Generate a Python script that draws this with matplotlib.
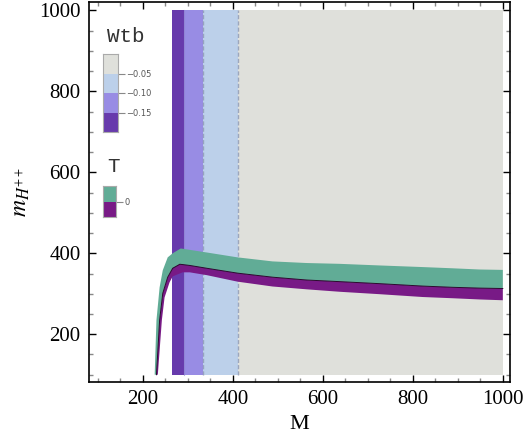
import numpy as np
import matplotlib
matplotlib.use("Agg")
import matplotlib.pyplot as plt
from matplotlib.ticker import MultipleLocator

plt.rcParams['mathtext.fontset'] = 'stix'

# --- data ---
# Wtb shaded vertical regions (edges in M) and their colours
wtb_edges = [265, 292, 333, 411, 1000]
wtb_colors = ['#673aac', '#988ce4', '#bcd0ea', '#dfe0db']
wtb_levels = ['-0.15', '-0.10', '-0.05']
region_ymin, region_ymax = 100, 1000

# upper edge of the teal band
M_up = [226, 230, 237, 244, 255, 266, 284, 342, 410, 488, 564, 637, 726, 822, 888, 948, 1000]
m_up = [100, 235, 316, 358, 390, 400, 412, 402, 390, 380, 376, 374, 370, 366, 363, 360, 359]
# boundary between teal and purple (T = 0)
M_mid = [230, 237, 244, 255, 266, 282, 304, 342, 410, 488, 564, 637, 726, 822, 888, 948, 1000]
m_mid = [100, 235, 301, 341, 363, 373, 370, 363, 351, 341, 334, 330, 325, 319, 316, 314, 313]
# lower edge of the purple band
M_low = [233, 242, 248, 259, 266, 288, 304, 342, 410, 488, 564, 637, 726, 822, 888, 948, 1000]
m_low = [100, 235, 291, 328, 343, 353, 353, 346, 330, 318, 311, 305, 299, 292, 289, 286, 284]

teal = '#61ac96'
purple = '#781a86'

fig = plt.figure(figsize=(5.26, 4.43), dpi=100)
ax = fig.add_axes([89 / 526, 1 - 382 / 443, 421 / 526, 380 / 443])

# shaded Wtb regions
for i in range(len(wtb_colors)):
    ax.fill_between([wtb_edges[i], wtb_edges[i + 1]], region_ymin, region_ymax,
                    color=wtb_colors[i], lw=0, zorder=1)
for e in wtb_edges[2:4]:
    ax.plot([e, e], [region_ymin, region_ymax], color='#8d98b4', lw=1.0,
            ls=(0, (3, 1.5)), alpha=0.8, zorder=2)
ax.plot([wtb_edges[1]] * 2, [region_ymin, region_ymax], color='#8d80cc', lw=0.8,
        alpha=0.6, zorder=2)

# T bands
ax.fill(np.concatenate([M_up, M_mid[::-1]]), np.concatenate([m_up, m_mid[::-1]]),
        color=teal, lw=0, zorder=3)
ax.fill(np.concatenate([M_mid, M_low[::-1]]), np.concatenate([m_mid, m_low[::-1]]),
        color=purple, lw=0, zorder=3)
ax.plot(M_mid, m_mid, color='#2a0a2e', lw=0.7, zorder=4)

ax.set_xlim(80, 1016)
ax.set_ylim(82, 1021)
ax.xaxis.set_major_locator(MultipleLocator(200))
ax.xaxis.set_minor_locator(MultipleLocator(50))
ax.yaxis.set_major_locator(MultipleLocator(200))
ax.yaxis.set_minor_locator(MultipleLocator(50))
ax.tick_params(which='both', direction='in', top=True, right=True,
               labelfontfamily='Liberation Serif', labelsize=15, pad=6)
ax.tick_params(which='major', length=5, width=1.0, color='black')
ax.tick_params(which='minor', length=3, width=1.0, color='#888888')
for s in ax.spines.values():
    s.set_linewidth(1.2)

ax.set_xlabel('M', family='Liberation Serif', fontsize=16, labelpad=4)
ax.set_ylabel('$m_{H^{++}}$', fontsize=17, labelpad=5)

# Wtb legend bar
fig.text(126 / 526, 1 - 36 / 443, 'Wtb', family='Liberation Mono', fontsize=15,
         color='#333333', ha='center', va='center')
cax = fig.add_axes([103 / 526, 1 - 132 / 443, 15 / 526, 78 / 443])
for i, c in enumerate(wtb_colors):
    cax.fill_between([0, 1], i, i + 1, color=c, lw=0)
cax.set_xlim(0, 1)
cax.set_ylim(0, 4)
cax.set_xticks([])
cax.yaxis.tick_right()
cax.set_yticks([1, 2, 3])
cax.set_yticklabels([s.replace('-', '\u2212') for s in wtb_levels])
cax.tick_params(axis='y', length=5, width=0.8, color='#888888', labelsize=6,
                labelcolor='#555555', pad=1)
for s in cax.spines.values():
    s.set_color('#aaaaaa')
    s.set_linewidth(0.8)

# T legend bar
fig.text(113 / 526, 1 - 166 / 443, 'T', family='Liberation Mono', fontsize=15,
         color='#333333', ha='center', va='center')
tax = fig.add_axes([103 / 526, 1 - 217 / 443, 13 / 526, 31 / 443])
tax.fill_between([0, 1], 0, 1, color=purple, lw=0)
tax.fill_between([0, 1], 1, 2, color=teal, lw=0)
tax.set_xlim(0, 1)
tax.set_ylim(0, 2)
tax.set_xticks([])
tax.yaxis.tick_right()
tax.set_yticks([1])
tax.set_yticklabels(['0'])
tax.tick_params(axis='y', length=5, width=0.8, color='#888888', labelsize=6,
                labelcolor='#555555', pad=1)
for s in tax.spines.values():
    s.set_color('#aaaaaa')
    s.set_linewidth(0.8)

fig.savefig('out.png', dpi=100)
